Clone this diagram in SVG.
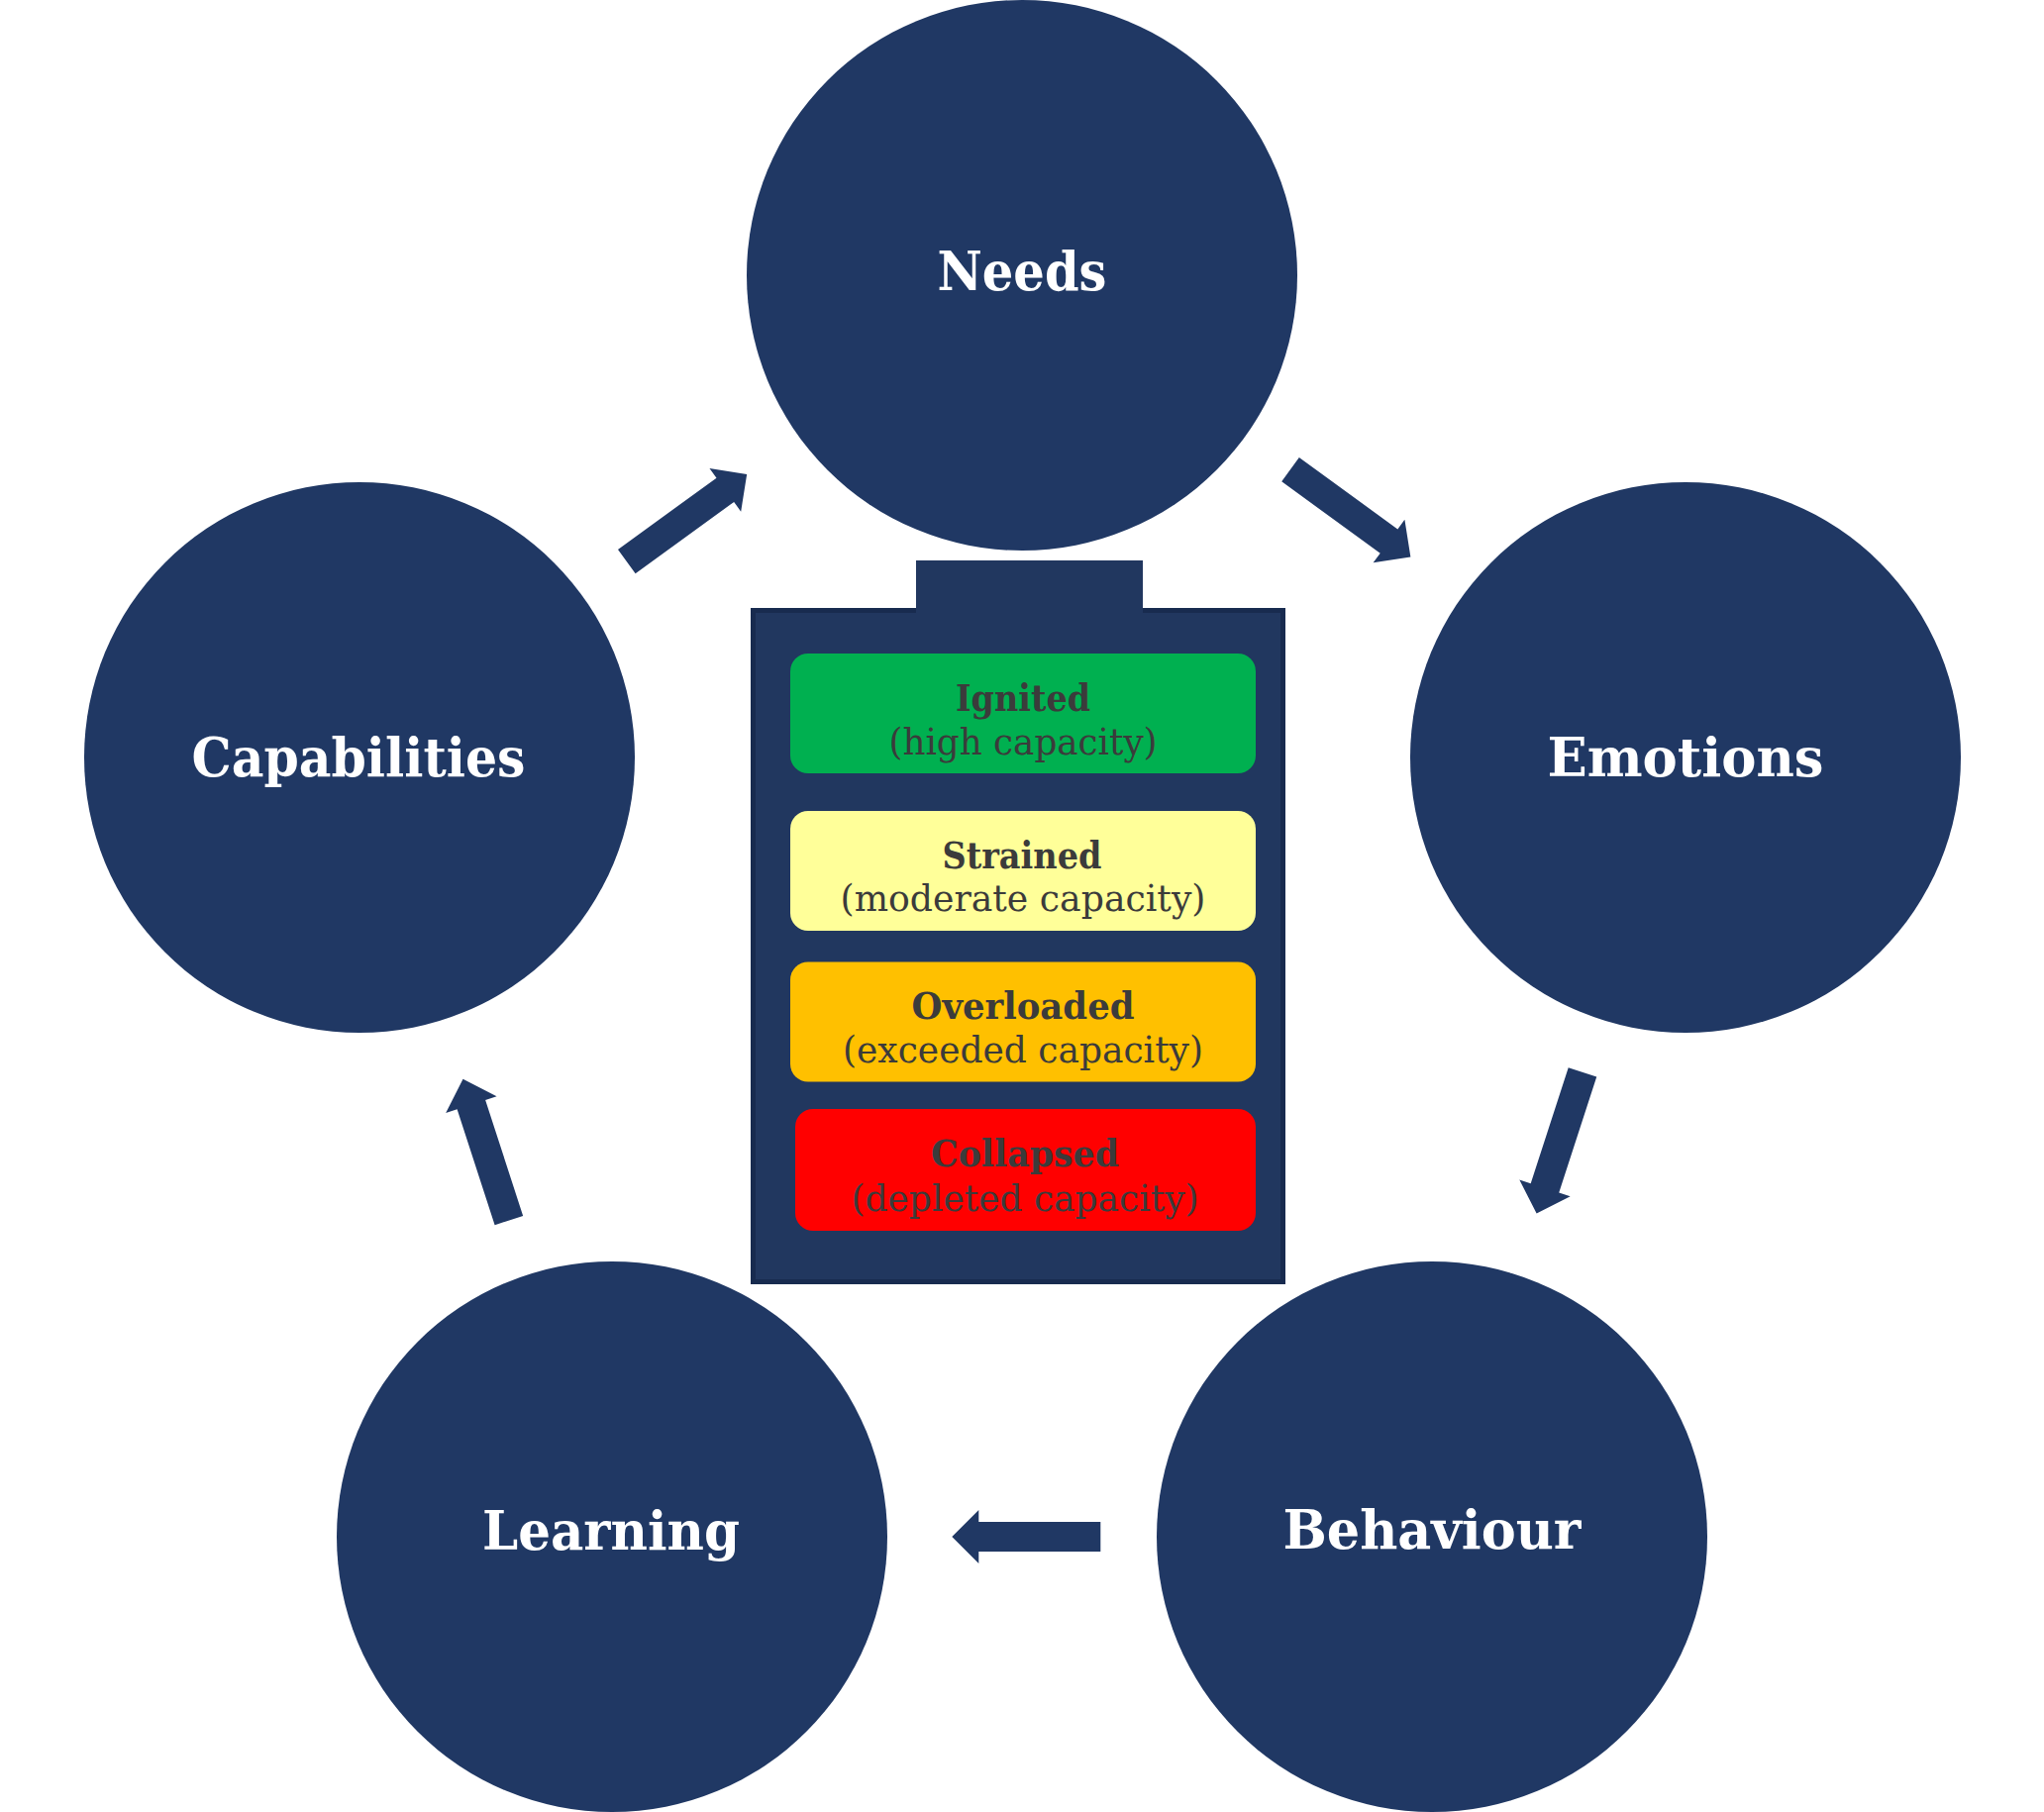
<svg xmlns="http://www.w3.org/2000/svg" width="2064" height="1830" viewBox="0 0 2064 1830">
<style>
.node{fill:#203864}
.lbl{font-family:"DejaVu Serif","Liberation Serif",serif;font-weight:bold;font-size:55px;fill:#ffffff;text-anchor:middle}
.bt{font-family:"DejaVu Serif","Liberation Serif",serif;font-size:38px;fill:#3b3b3b;text-anchor:middle}
.b{font-weight:bold}
.arrow{fill:#203864}
</style>
<defs>
<path id="arr" d="M-75,-15 L48,-15 L48,-27 L75,0 L48,27 L48,15 L-75,15 Z"/>
</defs>
<rect width="2064" height="1830" fill="#ffffff"/>
<g id="needs"><circle class="node" cx="1032" cy="278" r="278"/><text class="lbl" x="1032" y="293" textLength="171" lengthAdjust="spacingAndGlyphs">Needs</text></g>
<g id="emotions"><circle class="node" cx="1702" cy="765" r="278"/><text class="lbl" x="1702" y="784" textLength="279" lengthAdjust="spacingAndGlyphs">Emotions</text></g>
<g id="behaviour"><circle class="node" cx="1446" cy="1552" r="278"/><text class="lbl" x="1446" y="1564" textLength="301" lengthAdjust="spacingAndGlyphs">Behaviour</text></g>
<g id="learning"><circle class="node" cx="618" cy="1552" r="278"/><text class="lbl" x="617" y="1565" textLength="260" lengthAdjust="spacingAndGlyphs">Learning</text></g>
<g id="capabilities"><circle class="node" cx="363" cy="765" r="278"/><text class="lbl" x="362" y="784" textLength="337" lengthAdjust="spacingAndGlyphs">Capabilities</text></g>
<g id="battery">
<rect x="760.5" y="616.5" width="535" height="678" fill="#21375f" stroke="#182b4f" stroke-width="5"/>
<rect x="925" y="566" width="229" height="53" fill="#21375f"/>
<rect x="798" y="660" width="470" height="121" rx="18" fill="#00b050"/>
<rect x="798" y="819" width="470" height="121" rx="18" fill="#ffff99"/>
<rect x="798" y="971.5" width="470" height="121" rx="18" fill="#ffc000"/>
<rect x="803" y="1120" width="465" height="123" rx="18" fill="#ff0000"/>
<text class="bt b" x="1033" y="718" textLength="136" lengthAdjust="spacingAndGlyphs">Ignited</text>
<text class="bt" x="1033" y="762" textLength="271" lengthAdjust="spacingAndGlyphs">(high capacity)</text>
<text class="bt b" x="1032" y="877" textLength="161" lengthAdjust="spacingAndGlyphs">Strained</text>
<text class="bt" x="1033" y="920" textLength="369" lengthAdjust="spacingAndGlyphs">(moderate capacity)</text>
<text class="bt b" x="1033" y="1029" textLength="225" lengthAdjust="spacingAndGlyphs">Overloaded</text>
<text class="bt" x="1033" y="1073" textLength="364" lengthAdjust="spacingAndGlyphs">(exceeded capacity)</text>
<text class="bt b" x="1035" y="1178" textLength="190" lengthAdjust="spacingAndGlyphs">Collapsed</text>
<text class="bt" x="1035" y="1223" textLength="351" lengthAdjust="spacingAndGlyphs">(depleted capacity)</text>
</g>
<g id="connectors" class="arrow">
<use href="#arr" transform="translate(693.5,523) rotate(-36)"/>
<use href="#arr" transform="translate(1363.7,518.3) rotate(36)"/>
<use href="#arr" transform="translate(1574.8,1154.2) rotate(108)"/>
<use href="#arr" transform="translate(1036.3,1552) rotate(180)"/>
<use href="#arr" transform="translate(490.7,1161.2) rotate(-108)"/>
</g>
</svg>
